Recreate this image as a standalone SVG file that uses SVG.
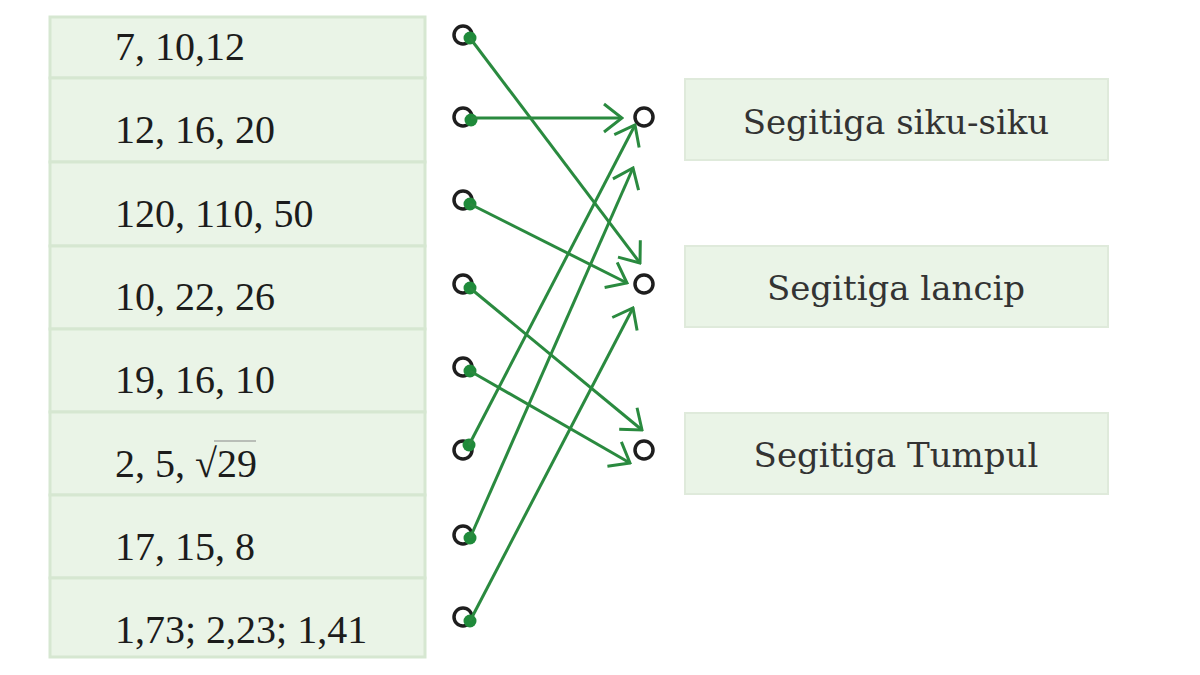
<svg xmlns="http://www.w3.org/2000/svg" width="1200" height="675" viewBox="0 0 1200 675">
<style>
.cell{fill:#eaf4e7;stroke:#d6e7d1;stroke-width:3}
.box{fill:#eaf4e7;stroke:#dfeadb;stroke-width:2}
.lt{font-family:"Liberation Serif",serif;font-size:40px;fill:#1c1c1c}
.rt{font-family:"DejaVu Serif",serif;font-size:34px;fill:#333;text-anchor:middle}
.oc{fill:#fff;stroke:#1e1e1e;stroke-width:3.5}
.dot{fill:#1f8a3a}
.conn line{stroke:#2a8a3f;stroke-width:3;fill:none;marker-end:url(#ah)}
</style>
<defs>
<marker id="ah" markerUnits="userSpaceOnUse" viewBox="-20 -16 22 32" refX="0" refY="0" markerWidth="22" markerHeight="32" orient="auto">
<path d="M-18,-14 L0,0 L-18,14" fill="none" stroke="#2a8a3f" stroke-width="3"/>
</marker>
</defs>
<rect width="1200" height="675" fill="#fff"/>
<g id="left-table">
<g id="row1"><rect class="cell" x="50" y="17" width="375" height="61"/><text class="lt" x="115" y="60">7, 10,12</text></g>
<g id="row2"><rect class="cell" x="50" y="78" width="375" height="84"/><text class="lt" x="115" y="143">12, 16, 20</text></g>
<g id="row3"><rect class="cell" x="50" y="162" width="375" height="84"/><text class="lt" x="115" y="227">120, 110, 50</text></g>
<g id="row4"><rect class="cell" x="50" y="246" width="375" height="83"/><text class="lt" x="115" y="310">10, 22, 26</text></g>
<g id="row5"><rect class="cell" x="50" y="329" width="375" height="83"/><text class="lt" x="115" y="393">19, 16, 10</text></g>
<g id="row6"><rect class="cell" x="50" y="412" width="375" height="83"/><text class="lt" x="115" y="477">2, 5, √29</text><line x1="214" y1="441" x2="256" y2="441" stroke="#888" stroke-width="1"/></g>
<g id="row7"><rect class="cell" x="50" y="495" width="375" height="83"/><text class="lt" x="115" y="560">17, 15, 8</text></g>
<g id="row8"><rect class="cell" x="50" y="578" width="375" height="79"/><text class="lt" x="115" y="643">1,73; 2,23; 1,41</text></g>
</g>
<g id="right-boxes">
<g id="siku"><rect class="box" x="685" y="79" width="423" height="81"/><text class="rt" x="896" y="134">Segitiga siku-siku</text></g>
<g id="lancip"><rect class="box" x="685" y="246" width="423" height="81"/><text class="rt" x="896" y="300">Segitiga lancip</text></g>
<g id="tumpul"><rect class="box" x="685" y="413" width="423" height="81"/><text class="rt" x="896" y="467">Segitiga Tumpul</text></g>
</g>
<g id="left-points">
<circle class="oc" cx="463" cy="35" r="9"/><circle class="dot" cx="470" cy="38" r="6.5"/>
<circle class="oc" cx="463" cy="117" r="9"/><circle class="dot" cx="471" cy="120" r="6.5"/>
<circle class="oc" cx="463" cy="200" r="9"/><circle class="dot" cx="470" cy="204" r="6.5"/>
<circle class="oc" cx="463" cy="284" r="9"/><circle class="dot" cx="470" cy="288" r="6.5"/>
<circle class="oc" cx="463" cy="367" r="9"/><circle class="dot" cx="470" cy="371" r="6.5"/>
<circle class="oc" cx="463" cy="450" r="9"/><circle class="dot" cx="469" cy="445" r="6.5"/>
<circle class="oc" cx="463" cy="535" r="9"/><circle class="dot" cx="470" cy="538" r="6.5"/>
<circle class="oc" cx="463" cy="617" r="9"/><circle class="dot" cx="470" cy="621" r="6.5"/>
</g>
<g id="right-points">
<circle class="oc" cx="644" cy="117" r="9"/>
<circle class="oc" cx="644" cy="284" r="9"/>
<circle class="oc" cx="644" cy="450" r="9"/>
</g>
<g id="connectors" class="conn">
<line x1="470" y1="38" x2="640" y2="263"/>
<line x1="471" y1="118" x2="622" y2="118"/>
<line x1="470" y1="204" x2="627" y2="283"/>
<line x1="470" y1="288" x2="642" y2="430"/>
<line x1="470" y1="371" x2="630" y2="463"/>
<line x1="469" y1="445" x2="635" y2="125"/>
<line x1="470" y1="538" x2="633" y2="168"/>
<line x1="470" y1="621" x2="633" y2="308"/>
</g>
</svg>
